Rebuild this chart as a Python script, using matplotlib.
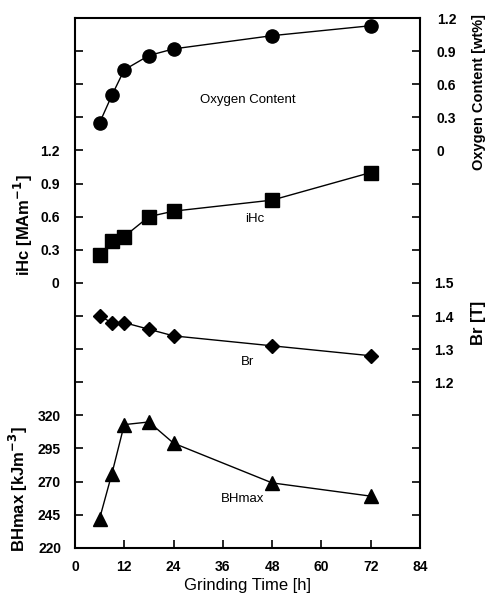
import matplotlib
matplotlib.use('Agg')
import matplotlib.pyplot as plt

# Grinding time [h]
hours = [6, 9, 12, 18, 24, 48, 72]

oxygen = [0.25, 0.50, 0.73, 0.86, 0.92, 1.04, 1.13]      # wt%
ihc = [0.25, 0.38, 0.42, 0.60, 0.65, 0.75, 1.00]         # MA/m
br = [1.40, 1.38, 1.38, 1.36, 1.34, 1.31, 1.28]          # T
bhmax = [242, 276, 313, 315, 299, 269, 259]              # kJ/m3

x_ticks = [0, 12, 24, 36, 48, 60, 72, 84]
bh_ticks = [220, 245, 270, 295, 320]
ihc_ticks = [0, 0.3, 0.6, 0.9, 1.2]
ox_ticks = [0, 0.3, 0.6, 0.9, 1.2]
br_ticks = [1.2, 1.3, 1.4, 1.5]

plt.rcParams['font.family'] = ['Liberation Sans', 'DejaVu Sans']
plt.rcParams['font.weight'] = 'bold'

fig = plt.figure(figsize=(4.93, 6.0), dpi=100)
ax = fig.add_axes([0.152, 0.087, 0.700, 0.883])

# each quantity gets its own overlapping axis; 16 grid steps share the height
ax.set_ylim(220, 220 + 16 * 25)
ax_ihc = ax.twinx()
ax_ihc.set_ylim(-8 * 0.3, 8 * 0.3)
ax_br = ax.twinx()
ax_br.set_ylim(1.5 - 0.8, 1.5 + 0.8)
ax_ox = ax.twinx()
ax_ox.set_ylim(-12 * 0.3, 4 * 0.3)

line_kw = dict(color='black', linewidth=1.0)
ax_ox.plot(hours, oxygen, marker='o', markersize=9.5, **line_kw)
ax_ihc.plot(hours, ihc, marker='s', markersize=9.5, **line_kw)
ax_br.plot(hours, br, marker='D', markersize=7.5, **line_kw)
ax.plot(hours, bhmax, marker='^', markersize=9.5, **line_kw)

tick_fs = 10

ax.set_xlim(0, 84)
ax.set_xticks(x_ticks)
ax.set_xticklabels([str(t) for t in x_ticks], fontsize=tick_fs)
ax.tick_params(axis='x', direction='in', length=6, width=1.2, pad=9)
for t in ax.xaxis.get_major_ticks()[:1] + ax.xaxis.get_major_ticks()[-1:]:
    t.tick1line.set_visible(False)

# left: BHmax ticks on every grid step, labels only for the lower part
ax.set_yticks([220 + 25 * k for k in range(17)])
ax.set_yticklabels([str(v) for v in bh_ticks] + [''] * 12, fontsize=tick_fs)
ax.tick_params(axis='y', direction='in', length=6, width=1.2, pad=10)

ax_ihc.yaxis.tick_left()
ax_ihc.set_yticks(ihc_ticks)
ax_ihc.set_yticklabels(['0', '0.3', '0.6', '0.9', '1.2'], fontsize=tick_fs)
ax_ihc.tick_params(axis='y', length=0, pad=11)

# right: Br ticks on every grid step, labels only 1.2 - 1.5
br_all = [round(0.7 + 0.1 * k, 1) for k in range(17)]
ax_br.set_yticks(br_all)
ax_br.set_yticklabels([f'{v:.1f}' if v in br_ticks else '' for v in br_all],
                      fontsize=tick_fs)
ax_br.tick_params(axis='y', direction='in', length=6, width=1.2, pad=10)

ax_ox.set_yticks(ox_ticks)
ax_ox.set_yticklabels(['0', '0.3', '0.6', '0.9', '1.2'], fontsize=tick_fs)
ax_ox.tick_params(axis='y', length=0, pad=12)

for a in (ax_ihc, ax_br, ax_ox):
    for s in a.spines.values():
        s.set_visible(False)
for s in ax.spines.values():
    s.set_linewidth(1.5)

ax.set_xlabel('Grinding Time [h]', fontsize=12, labelpad=3)

lab_kw = dict(transform=ax.transAxes, rotation=90, ha='center', va='center',
              fontsize=12)
ax.text(-0.15, 0.61, 'iHc [MAm$^{-1}$]', **lab_kw)
ax.text(-0.165, 0.11, 'BHmax [kJm$^{-3}$]', **lab_kw)
ax.text(1.17, 0.86, 'Oxygen Content [wt%]', **dict(lab_kw, fontsize=10.5))
ax.text(1.17, 0.425, 'Br [T]', **lab_kw)

in_kw = dict(transform=ax.transAxes, ha='center', va='center', fontsize=9.5,
             fontweight='normal')
ax.text(0.50, 0.845, 'Oxygen Content', **in_kw)
ax.text(0.52, 0.62, 'iHc', **in_kw)
ax.text(0.50, 0.35, 'Br', **in_kw)
ax.text(0.485, 0.092, 'BHmax', **in_kw)

fig.savefig('out.png', dpi=100)
